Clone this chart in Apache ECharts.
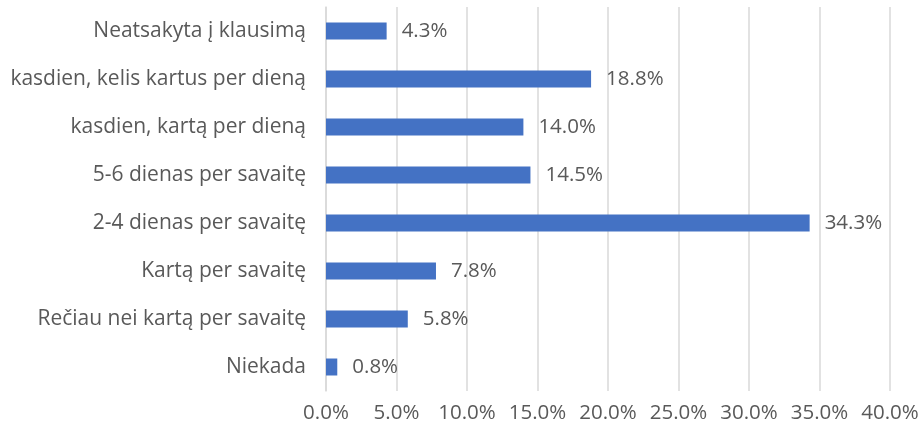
<!DOCTYPE html>
<html>
<head>
<meta charset="utf-8">
<script src="https://cdn.jsdelivr.net/npm/echarts@6/dist/echarts.min.js"></script>
<style>
    html, body { margin: 0; padding: 0; background: #fff; }
    #Root { width: 922px; height: 431px; }
</style>
</head>
<body>
<div id="Root"></div>
<script>
// kategorijos (iš apačios į viršų)
let Categories = [
    "Niekada",
    "Rečiau nei kartą per savaitę",
    "Kartą per savaitę",
    "2-4 dienas per savaitę",
    "5-6 dienas per savaitę",
    "kasdien, kartą per dieną",
    "kasdien, kelis kartus per dieną",
    "Neatsakyta į klausimą"
]
let Values = [0.8, 5.8, 7.8, 34.3, 14.5, 14.0, 18.8, 4.3]
let AxisTicks = [0, 5, 10, 15, 20, 25, 30, 35, 40]

let chart = echarts.init(document.getElementById("Root"))

let textColor = '#595959'
let fontName = "'Open Sans', 'Noto Sans', sans-serif"

chart.setOption({
    animation: false,
    grid: {
        left: 326,
        right: 32,
        top: 7,
        bottom: 40
    },
    xAxis: {
        type: 'value',
        min: AxisTicks[0],
        max: AxisTicks[AxisTicks.length - 1],
        interval: 5,
        axisLine: { show: false },
        axisTick: { show: false },
        splitLine: { lineStyle: { color: '#d9d9d9', width: 1.5 } },
        axisLabel: {
            color: textColor,
            fontSize: 20.5,
            fontFamily: fontName,
            margin: 12,
            formatter: v => v.toFixed(1) + '%'
        }
    },
    yAxis: {
        type: 'category',
        data: Categories,
        axisLine: { show: true, lineStyle: { color: '#d9d9d9', width: 1.5 } },
        axisTick: { show: false },
        axisLabel: {
            color: textColor,
            fontSize: 21,
            fontFamily: fontName,
            margin: 20
        }
    },
    series: [{
        type: 'bar',
        data: Values,
        barWidth: 17,
        itemStyle: { color: '#4472c4' },
        label: {
            show: true,
            position: 'right',
            distance: 15,
            color: textColor,
            fontSize: 20.5,
            fontFamily: fontName,
            formatter: p => p.value.toFixed(1) + '%'
        }
    }]
})
</script>
</body>
</html>
